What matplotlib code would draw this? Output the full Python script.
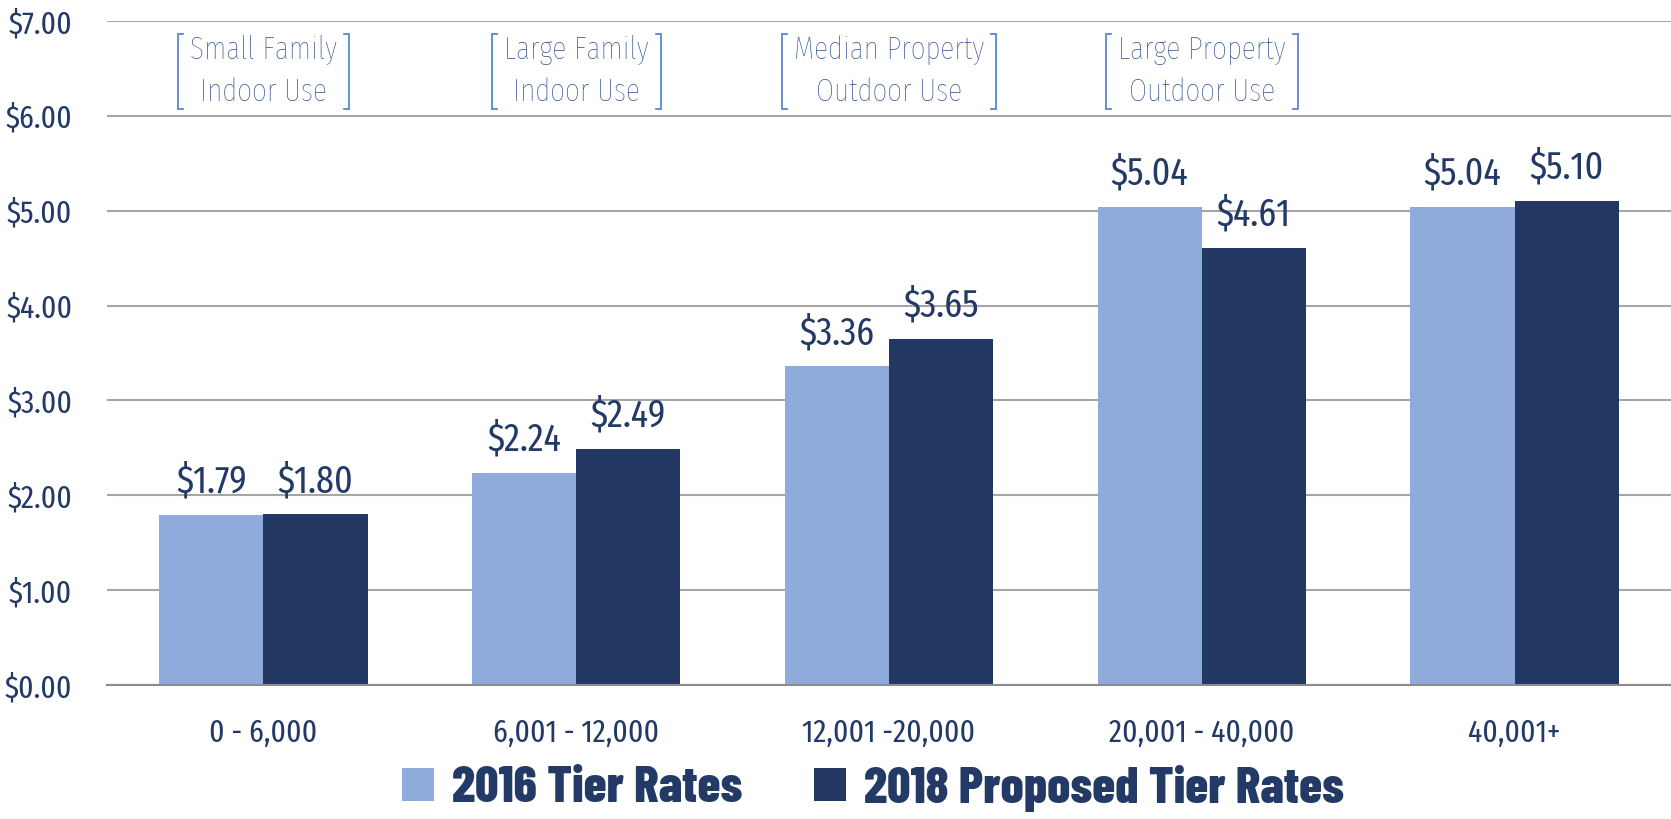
import numpy as np
import matplotlib
matplotlib.use("Agg")
import matplotlib.pyplot as plt

plt.rcParams["font.family"] = ["Fira Sans Extra Condensed", "Roboto Condensed", "DejaVu Sans"]

# data
tiers = ["0 - 6,000", "6,001 - 12,000", "12,001 -20,000", "20,001 - 40,000", "40,001+"]
rates_2016 = [1.79, 2.24, 3.36, 5.04, 5.04]
rates_2018 = [1.80, 2.49, 3.65, 4.61, 5.10]
notes = ["Small Family\nIndoor Use", "Large Family\nIndoor Use",
         "Median Property\nOutdoor Use", "Large Property\nOutdoor Use"]
series_labels = ["2016 Tier Rates", "2018 Proposed Tier Rates"]

LIGHT = "#8FABDC"
DARK = "#223863"
NAVY_TXT = "#233A66"
NOTE_TXT = "#2F4F8F"
BRACKET = "#5A86CF"
GRID = "#A6A6A6"

fig = plt.figure(figsize=(16.71, 8.19), dpi=100)
ax = fig.add_axes([0.064, 0.1636, 0.936, 0.8108])

x = np.arange(len(tiers))
w = 1 / 3
b1 = ax.bar(x - w / 2, rates_2016, w, color=LIGHT, label=series_labels[0], zorder=2)
b2 = ax.bar(x + w / 2, rates_2018, w, color=DARK, label=series_labels[1], zorder=2)

for bars, vals in [(b1, rates_2016), (b2, rates_2018)]:
    for rect, v in zip(bars, vals):
        ax.annotate(f"${v:.2f}", (rect.get_x() + rect.get_width() / 2, v),
                    xytext=(0, 16), textcoords="offset points",
                    ha="center", va="baseline", fontsize=28, color=NAVY_TXT,
                    zorder=3)

ax.set_xlim(-0.5, len(tiers) - 0.5)
ax.set_ylim(0, 7)
ax.set_yticks(np.arange(0, 8, 1))
ax.set_yticklabels([f"${v:.2f}" for v in np.arange(0, 8, 1)])
ax.set_xticks(x)
ax.set_xticklabels(tiers)
ax.tick_params(axis="both", length=0, labelsize=23, colors=NAVY_TXT)
ax.tick_params(axis="y", pad=25)
ax.tick_params(axis="x", pad=24)
ax.yaxis.grid(True, color=GRID, linewidth=1.5, zorder=0)
ax.set_axisbelow(True)
for s in ["top", "right", "left"]:
    ax.spines[s].set_visible(False)
ax.spines["bottom"].set_color("#8C8C8C")
ax.spines["bottom"].set_linewidth(1.5)
ax.spines["bottom"].set_zorder(3)

# bracketed notes above the first four groups
note_texts = []
for i, note in enumerate(notes):
    t = ax.text(x[i], 6.47, note, ha="center", va="center", multialignment="center",
                fontsize=23, color=NOTE_TXT, linespacing=1.5, weight="light")
    note_texts.append(t)

fig.canvas.draw()
renderer = fig.canvas.get_renderer()
inv = ax.transData.inverted()
for t in note_texts:
    bb = t.get_window_extent(renderer)
    x0, x1 = bb.x0 - 12, bb.x1 + 12
    y0, y1 = bb.y0 - 2, bb.y1 + 1
    tick = 5
    for xe, d in [(x0, tick), (x1, -tick)]:
        pts = inv.transform([(xe + d, y1), (xe, y1), (xe, y0), (xe + d, y0)])
        ax.plot(pts[:, 0], pts[:, 1], color=BRACKET, linewidth=1.3,
                solid_joinstyle="miter", clip_on=False)

leg = fig.legend(handles=[b1, b2], loc="center", bbox_to_anchor=(873 / 1671, 1 - 788 / 819),
                 ncol=2, frameon=False,
                 prop={"family": ["Barlow Condensed", "DejaVu Sans"], "size": 37, "weight": 800},
                 handlelength=0.62, handleheight=0.62, handletextpad=0.35,
                 columnspacing=1.4, borderpad=0)
for txt in leg.get_texts():
    txt.set_color(NAVY_TXT)

fig.savefig("out.png", dpi=100)
